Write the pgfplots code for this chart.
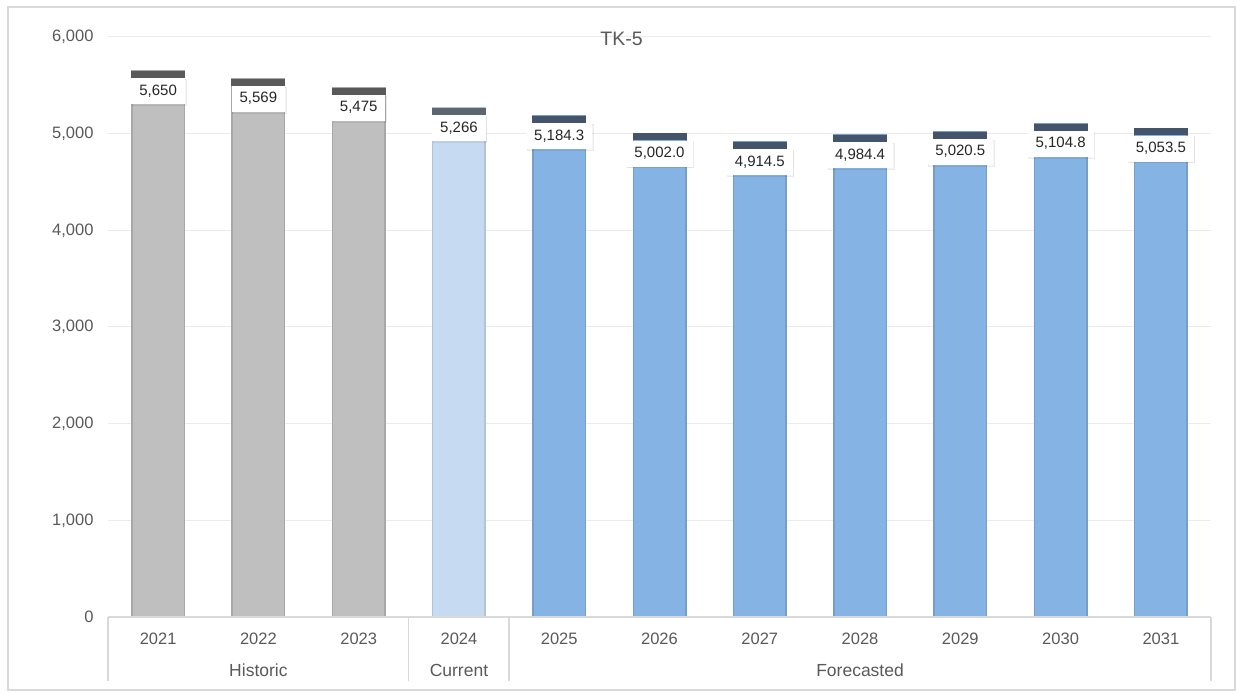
\documentclass[border=0pt]{standalone}
\usepackage{fontspec}
\setmainfont{Liberation Sans}
\usepackage{pgfplots}
\pgfplotsset{compat=1.18}
\usepackage{pgfplotstable}
\usetikzlibrary{shadows}

\definecolor{txt}{HTML}{595959}
\definecolor{gridc}{HTML}{EBEBEB}
\definecolor{axisc}{HTML}{D9D9D9}
\definecolor{framec}{HTML}{D9D9D9}
\definecolor{histfill}{HTML}{BFBFBF}
\definecolor{histcap}{HTML}{595959}
\definecolor{curfill}{HTML}{C6DAF2}
\definecolor{curcap}{HTML}{5C6570}
\definecolor{forefill}{HTML}{85B3E4}
\definecolor{forecap}{HTML}{44546A}

% dark strip drawn on top of each bar
\pgfdeclareplotmark{barcap}{%
  \pgfpathrectangle{\pgfpoint{-27pt}{-7pt}}{\pgfpoint{54pt}{7pt}}%
  \pgfusepathqfill}

\pgfplotstableread{
x y label
0 5650 5,650
1 5569 5,569
2 5475 5,475
}\historic
\pgfplotstableread{
x y label
3 5266 5,266
}\current
\pgfplotstableread{
x y label
4 5184.3 5,184.3
5 5002.0 5,002.0
6 4914.5 4,914.5
7 4984.4 4,984.4
8 5020.5 5,020.5
9 5104.8 5,104.8
10 5053.5 5,053.5
}\forecast

\pgfplotsset{
  barbody/.style={ybar, bar width=52.5pt, bar shift=0pt, line width=1.5pt},
  capwithlabel/.style={
    only marks, mark=barcap,
    nodes near coords, point meta=explicit symbolic,
    nodes near coords align={below},
    every node near coord/.append style={
      anchor=north, yshift=-7pt, fill=white,
      inner xsep=8pt, inner ysep=6pt, text height=11pt, text depth=3pt,
      font=\fontsize{15}{18}\selectfont, text=black!85,
      drop shadow={opacity=0.08, shadow xshift=0.8pt, shadow yshift=-1pt}},
  },
}

\begin{document}
\begin{tikzpicture}
\useasboundingbox (-108pt,-76pt) rectangle (1130pt,617pt);
\begin{axis}[
  at={(0,0)}, anchor=south west,
  scale only axis, width=1103pt, height=580pt,
  xmin=-0.5, xmax=10.5, ymin=0, ymax=6000,
  xtick={0,...,10},
  xticklabels={2021,2022,2023,2024,2025,2026,2027,2028,2029,2030,2031},
  ytick={0,1000,...,6000},
  yticklabel={\pgfmathprintnumber[1000 sep={,},assume math mode=true]{\tick}},
  axis line style={draw=none},
  major tick length=0pt,
  tick style={draw=none},
  ymajorgrids, grid style={gridc, line width=1pt},
  clip=false,
  ticklabel style={font=\fontsize{16.5}{20}\selectfont, text=txt},
  yticklabel style={xshift=-11pt},
  xticklabel style={anchor=base, yshift=-27pt},
]
\addplot[barbody, fill=histfill, draw=histfill!88!black] table[x=x,y=y]{\historic};
\addplot[barbody, fill=curfill, draw=curfill!90!black] table[x=x,y=y]{\current};
\addplot[barbody, fill=forefill, draw=forefill!88!black] table[x=x,y=y]{\forecast};

\addplot[capwithlabel, mark options={fill=histcap, draw=none}] table[x=x,y=y,meta=label]{\historic};
\addplot[capwithlabel, mark options={fill=curcap, draw=none}] table[x=x,y=y,meta=label]{\current};
\addplot[capwithlabel, mark options={fill=forecap, draw=none}] table[x=x,y=y,meta=label]{\forecast};

% category axis with group brackets
\draw[axisc, line width=1.2pt] (axis cs:-0.5,0) -- (axis cs:10.5,0);
\draw[axisc, line width=1.2pt] (axis cs:-0.5,0) -- ++(0pt,-64pt);
\draw[axisc, line width=1.2pt] (axis cs:2.5,0) -- ++(0pt,-64pt);
\draw[axisc, line width=1.2pt] (axis cs:3.5,0) -- ++(0pt,-64pt);
\draw[axisc, line width=1.2pt] (axis cs:10.5,0) -- ++(0pt,-64pt);

\node[anchor=base, yshift=-59pt, font=\fontsize{17.5}{20}\selectfont, text=txt] at (axis cs:1,0) {Historic};
\node[anchor=base, yshift=-59pt, font=\fontsize{17.5}{20}\selectfont, text=txt] at (axis cs:3,0) {Current};
\node[anchor=base, yshift=-59pt, font=\fontsize{17.5}{20}\selectfont, text=txt] at (axis cs:7,0) {Forecasted};
\end{axis}

\node[font=\fontsize{19.5}{22}\selectfont, text=txt] at (513.5pt,578pt) {TK-5};
\draw[framec, line width=1.5pt] (-100pt,-73pt) rectangle (1127pt,610pt);
\end{tikzpicture}
\end{document}
